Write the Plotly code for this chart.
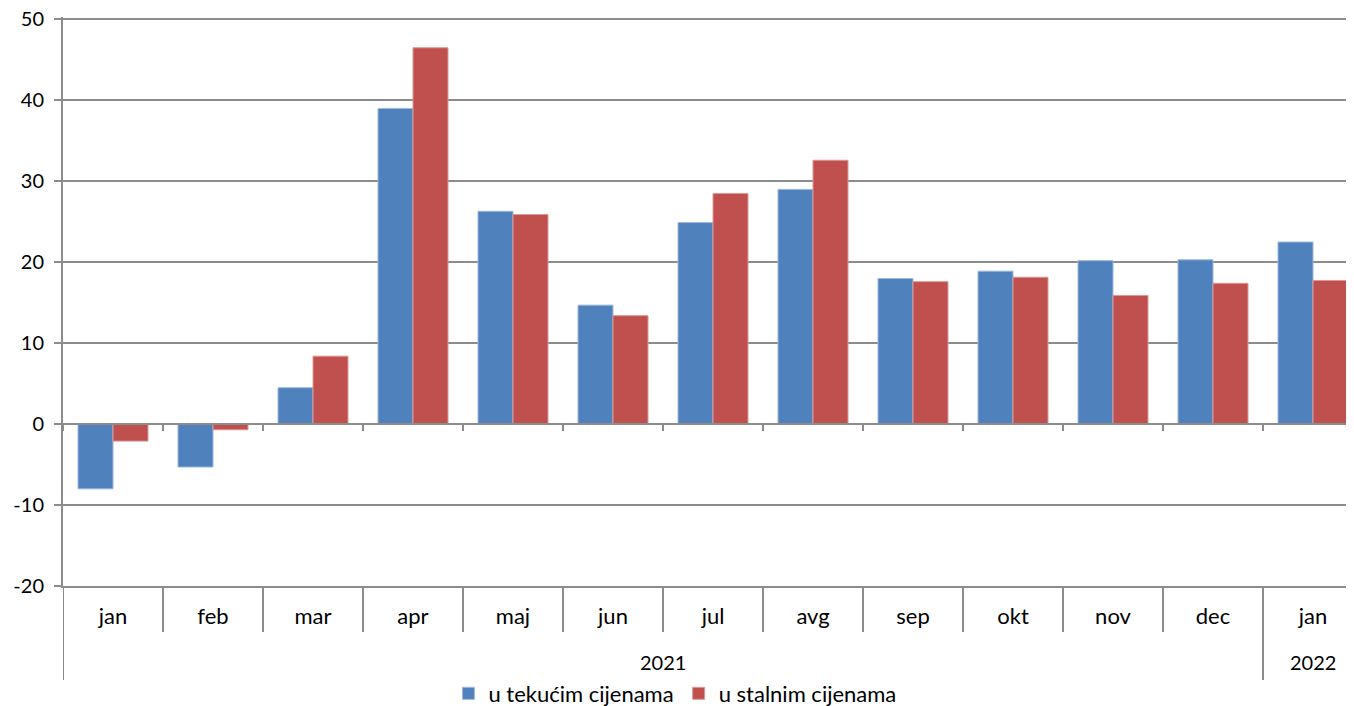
import plotly.graph_objects as go

months = ["jan", "feb", "mar", "apr", "maj", "jun", "jul", "avg", "sep", "okt", "nov", "dec", "jan"]
years = ["2021"] * 12 + ["2022"]
tekuce = [-8.0, -5.3, 4.5, 39.0, 26.3, 14.7, 24.9, 29.0, 18.0, 18.9, 20.2, 20.3, 22.5]
stalne = [-2.1, -0.7, 8.4, 46.5, 25.9, 13.4, 28.5, 32.6, 17.6, 18.15, 15.9, 17.4, 17.75]
names = ["u tekućim cijenama", "u stalnim cijenama"]
colors = ["#4F81BD", "#C0504D"]
yticks = [-20, -10, 0, 10, 20, 30, 40, 50]

FONT = "Lato"
GRID = "#8c8c8c"

n = len(months)
idx = list(range(n))

fig = go.Figure()
for vals, name, col, lc in zip([tekuce, stalne], names, colors, ["#9db8dc", "#dc9896"]):
    fig.add_trace(go.Bar(
        x=idx, y=vals, name=name,
        marker=dict(color=col, line=dict(color=lc, width=1)),
    ))

shapes = []
# small ticks on the zero line
for i in range(n + 1):
    shapes.append(dict(type="line", xref="x", yref="y", x0=i - 0.5, x1=i - 0.5,
                       ysizemode="pixel", yanchor=0, y0=0, y1=-7,
                       line=dict(color=GRID, width=2)))
shapes.append(dict(type="line", xref="paper", yref="y", x0=0, x1=1, y0=0, y1=0,
                   line=dict(color=GRID, width=2), layer="above"))
# month separators and year separators below the plot
for i in range(n + 1):
    new_year = i == 0 or (i < n and years[i] != years[i - 1])
    shapes.append(dict(type="line", xref="x", yref="paper", x0=i - 0.5, x1=i - 0.5,
                       ysizemode="pixel", yanchor=0, y0=0, y1=-94 if new_year else -46,
                       line=dict(color=GRID, width=2)))

annotations = []
uniq = []
for y in years:
    if y not in uniq:
        uniq.append(y)
for y in uniq:
    pos = [i for i, v in enumerate(years) if v == y]
    annotations.append(dict(x=(pos[0] + pos[-1]) / 2, xref="x", y=0, yref="paper",
                            yshift=-76, text=y, showarrow=False, yanchor="middle",
                            font=dict(size=20, family=FONT, color="black")))

fig.update_layout(
    width=1346, height=698,
    margin=dict(l=55, r=0, t=9, b=120, autoexpand=False),
    paper_bgcolor="white", plot_bgcolor="white",
    barmode="group", bargap=0.3, bargroupgap=0,
    font=dict(family=FONT, size=20, color="black"),
    shapes=shapes, annotations=annotations,
    legend=dict(orientation="h", x=0.474, xanchor="center", y=-0.189, yanchor="middle",
                font=dict(size=22), itemwidth=30, tracegroupgap=0),
    xaxis=dict(
        range=[-0.5, 12.41], tickvals=idx, ticktext=months,
        showline=True, linecolor=GRID, linewidth=2, ticks="",
        tickfont=dict(size=22, family=FONT), ticklabelstandoff=10,
        showgrid=False, zeroline=False, automargin=False,
    ),
    yaxis=dict(
        range=[-20, 50.3], tickvals=yticks, ticktext=[str(v) for v in yticks],
        showgrid=True, gridcolor=GRID, gridwidth=2,
        zeroline=False, showline=True, linecolor=GRID, linewidth=2,
        ticks="outside", ticklen=7, tickcolor=GRID, tickwidth=2,
        tickfont=dict(size=20, family=FONT), ticklabelstandoff=6, automargin=False,
        ticklabeloverflow="allow",
    ),
)

fig.write_html("out.html")
